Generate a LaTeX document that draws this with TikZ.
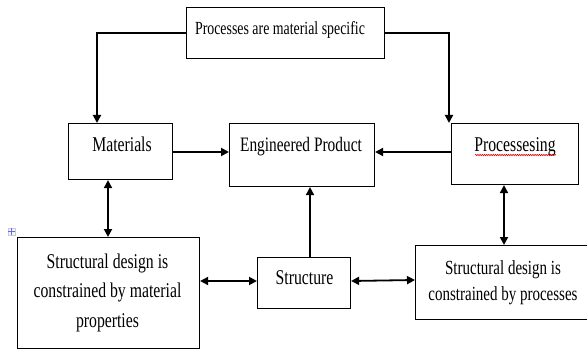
\documentclass[tikz,border=0pt]{standalone}
\usepackage{fontspec}
\setmainfont{Liberation Serif}[FakeStretch=0.75]
\usetikzlibrary{arrows.meta,decorations.pathmorphing}
\begin{document}
\begin{tikzpicture}[x=1pt,y=-1pt,
  box/.style={draw,line width=1.1pt,rectangle,inner sep=0pt,anchor=north west},
  txt/.style={anchor=base,inner sep=0pt,align=center},
  conn/.style={line width=1.8pt},
  arr/.style={conn,-{Triangle[length=8pt,width=8pt]}},
  darr/.style={conn,{Triangle[length=8pt,width=8pt]}-{Triangle[length=8pt,width=8pt]}}]
\useasboundingbox (0,0) rectangle (587,353);
\clip (0,0) rectangle (587,353);
% boxes
\node[box,minimum width=198pt,minimum height=51pt] (top) at (186,7) {};
\node[box,minimum width=104pt,minimum height=56pt] (mat) at (68,123) {};
\node[box,minimum width=145pt,minimum height=63pt] (eng) at (229,123) {};
\node[box,minimum width=127pt,minimum height=61pt] (proc) at (451,123) {};
\node[box,minimum width=182pt,minimum height=111pt] (sdm) at (17,237) {};
\node[box,minimum width=93pt,minimum height=51pt] (str) at (257,257) {};
\node[box,minimum width=180pt,minimum height=74pt] (sdp) at (415,245) {};
% texts
\node[txt,font=\fontsize{18.5}{22}\selectfont] (topT) at (280,35) {Processes are material specific};
\node[txt,font=\fontsize{21}{25}\selectfont] (matT) at (122,151) {Materials};
\node[txt,font=\fontsize{20.5}{25}\selectfont] (engT) at (301,151) {Engineered Product};
\node[txt,font=\fontsize{21}{25}\selectfont] (procT) at (515,151) {Processesing};
\node[txt,font=\fontsize{21}{29.5}\selectfont] (sdmT) at (107.5,327) {Structural design is\\constrained by material\\properties};
\node[txt,font=\fontsize{21}{25}\selectfont] (strT) at (304.5,284) {Structure};
\node[txt,font=\fontsize{20}{26}\selectfont] (sdpT) at (503,300) {Structural design is\\constrained by processes};
% red wavy underline
\coordinate (w1) at (475,155);
\coordinate (w2) at (556,155);
\draw[red!85!black,line width=0.6pt,decorate,decoration={snake,amplitude=0.7pt,segment length=2.2pt}] (w1) -- (w2);
% connectors
\coordinate (tl) at (97,33);
\coordinate (tr) at (449,33);
\draw[arr] (top.west |- tl) -- (tl) -- (tl |- mat.north);
\draw[arr] (top.east |- tr) -- (tr) -- (tr |- proc.north);
\draw[arr] (mat.east |- 0,152) -- (eng.west |- 0,152);
\draw[arr] (proc.west |- 0,152) -- (eng.east |- 0,152);
\draw[darr] (108,0 |- mat.south) -- (108,0 |- sdm.north);
\draw[darr] (504,0 |- proc.south) -- (504,0 |- sdp.north);
\draw[darr] (sdm.east |- 0,281) -- (str.west |- 0,281);
\draw[darr] (str.east |- 0,281) -- (sdp.west |- 0,280);
\draw[arr] (310,0 |- str.north) -- (310,0 |- eng.south);
% move handle icon
\node[draw=gray!40,fill=gray!8,minimum size=7pt,inner sep=0pt] (icon) at (11.5,231.5) {};
\draw[blue!60,line width=0.6pt] (icon.north) -- (icon.south) (icon.west) -- (icon.east);
\end{tikzpicture}
\end{document}
